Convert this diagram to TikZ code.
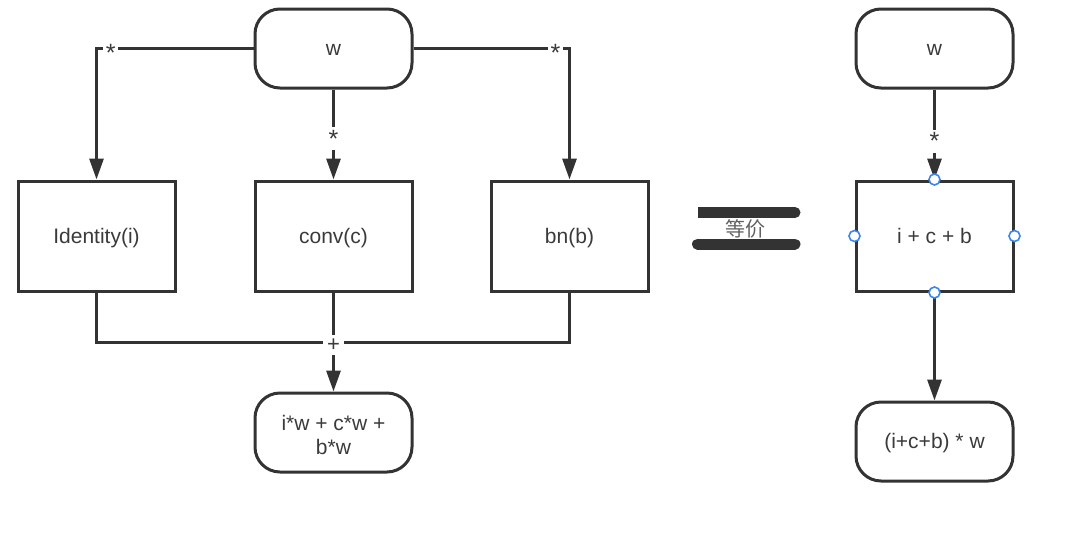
\documentclass[tikz,border=0pt]{standalone}
\usepackage{fontspec}
\setmainfont{Liberation Sans}
\newfontfamily\cjk{Noto Sans CJK SC}
\usetikzlibrary{arrows.meta}
\definecolor{ink}{HTML}{333333}
\definecolor{txt}{HTML}{3A3A3A}
\definecolor{handle}{HTML}{3D85EE}
\begin{document}
\begin{tikzpicture}[x=1pt,y=-1pt,
  every node/.style={font=\fontsize{21}{24}\selectfont, text=txt},
  term/.style={draw=ink, line width=3pt, rounded corners=25pt, minimum width=157pt, minimum height=79pt, inner sep=0pt, align=center},
  one/.style={text height=14pt, text depth=0pt},
  proc/.style={draw=ink, line width=3pt, minimum width=157pt, minimum height=110pt, inner sep=0pt, one},
  conn/.style={draw=ink, line width=3pt},
  arr/.style={conn, -{Triangle[length=21pt,width=14pt]}},
  lbl/.style={fill=white, inner sep=3pt, font=\fontsize{25}{25}\selectfont},
  hdl/.style={draw=handle, fill=white, line width=1.6pt, circle, minimum size=11pt, inner sep=0pt}
]
\useasboundingbox (0,0) rectangle (1080,539);
% left diagram
\node[term, one] (w) at (333.5,48.5) {w};
\node[proc] (ident) at (96.5,236) {Identity(i)};
\node[proc] (conv) at (333.5,236) {conv(c)};
\node[proc] (bn) at (569.5,236) {bn(b)};
\node[term] (out) at (333.5,432.5) {\rule{0pt}{21pt}i*w + c*w +\\ b*w};
\coordinate (sum) at (333.5,342);

\draw[arr] (w.west) -| node[lbl, pos=0.455, yshift=-4pt] {*} (ident.north);
\draw[arr] (w.east) -| node[lbl, pos=0.455, yshift=-4pt] {*} (bn.north);
\draw[arr] (w.south) -- node[lbl, pos=0.5, yshift=-4pt] {*} (conv.north);
\draw[conn] (ident.south) |- (sum);
\draw[conn] (bn.south) |- (sum);
\draw[conn] (conv.south) -- (sum);
\draw[arr] (sum) -- (out.north);
\node[lbl, inner sep=4pt, font=\fontsize{22}{22}\selectfont] (plus) at (333.5,345) {+};

% equivalence sign
\fill[ink] (698,207) rectangle (795,218);
\fill[ink] (795,212.5) circle (5.5);
\draw[ink, line width=11pt, line cap=round] (697.5,244) -- (795,244);
\node[text=black!62, font=\cjk\fontsize{20}{20}\selectfont] (eq) at (745.5,229) {等价};

% right diagram
\node[term, one] (w2) at (934.5,48.5) {w};
\node[proc] (sumbox) at (934.5,236) {i + c + b};
\node[term, one] (out2) at (934.5,441.5) {(i+c+b) * w};
\draw[arr] (w2.south) -- node[lbl, pos=0.53, yshift=-4pt] {*} (sumbox.north);
\draw[arr] (sumbox.south) -- (out2.north);
\foreach \a in {north,south,east,west} \node[hdl] at (sumbox.\a) {};
\end{tikzpicture}
\end{document}
